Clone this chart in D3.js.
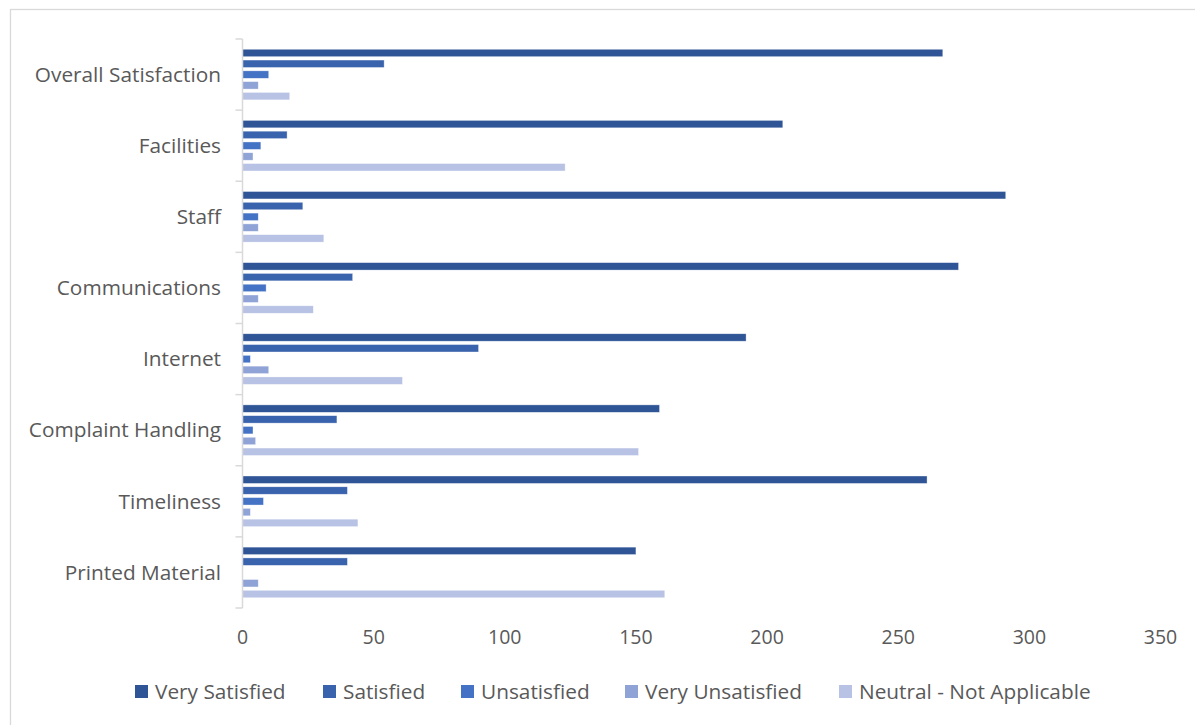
<!DOCTYPE html>
<html>
<head>
<meta charset="utf-8">
<script src="https://cdn.jsdelivr.net/npm/d3@7"></script>
<style>
  html, body { margin: 0; padding: 0; background: #fff; }
  svg { display: block; }
  text { font-family: "Open Sans", Lato, sans-serif; fill: #595959; }
</style>
</head>
<body>
<svg id="chart" width="1195" height="725"></svg>
<script>
const categories = ["Overall Satisfaction", "Facilities", "Staff", "Communications", "Internet", "Complaint Handling", "Timeliness", "Printed Material"];
const seriesNames = ["Very Satisfied", "Satisfied", "Unsatisfied", "Very Unsatisfied", "Neutral - Not Applicable"];
const verySatisfied   = [267, 206, 291, 273, 192, 159, 261, 150];
const satisfied       = [54, 17, 23, 42, 90, 36, 40, 40];
const unsatisfied     = [10, 7, 6, 9, 3, 4, 8, 0];
const veryUnsatisfied = [6, 4, 6, 6, 10, 5, 3, 6];
const neutral         = [18, 123, 31, 27, 61, 151, 44, 161];
const xTicks = [0, 50, 100, 150, 200, 250, 300, 350];
const colors = ["#2F5597", "#3A63AD", "#4472C4", "#8FA3D6", "#B7C2E4"];

const seriesValues = [verySatisfied, satisfied, unsatisfied, veryUnsatisfied, neutral];

const svg = d3.select("#chart");

// chart border
svg.append("rect")
  .attr("x", 10.5).attr("y", 9.5)
  .attr("width", 1200).attr("height", 730)
  .attr("fill", "none").attr("stroke", "#D9D9D9").attr("stroke-width", 1.3);

const x = d3.scaleLinear().domain([0, 350]).range([242.5, 1160.5]);
const y = d3.scaleBand().domain(categories).range([39, 608]).padding(0);
const ySub = d3.scaleBand().domain(seriesNames).range([0, y.bandwidth()])
  .paddingInner(0.31).paddingOuter(0.95);

// bars
const groups = svg.append("g").selectAll("g")
  .data(categories)
  .join("g")
  .attr("transform", d => `translate(0,${y(d)})`);

groups.selectAll("rect")
  .data((c, i) => seriesNames.map((s, j) => ({ s, j, v: seriesValues[j][i] })))
  .join("rect")
  .attr("x", x(0))
  .attr("y", d => ySub(d.s))
  .attr("width", d => Math.max(0, x(d.v) - x(0)))
  .attr("height", ySub.bandwidth())
  .attr("fill", d => colors[d.j])
  .attr("stroke", d => d.v > 0 ? "#ffffff" : "none")
  .attr("stroke-opacity", 0.6)
  .attr("stroke-width", 0.6);

// category axis
const yAxis = svg.append("g").attr("transform", `translate(${x(0)},0)`);
yAxis.append("line")
  .attr("x1", 0).attr("x2", 0)
  .attr("y1", 39).attr("y2", 608)
  .attr("stroke", "#D9D9D9").attr("stroke-width", 1.5);
const boundaries = categories.map(c => y(c)).concat([y.range()[1]]);
yAxis.selectAll("line.tick")
  .data(boundaries)
  .join("line")
  .attr("class", "tick")
  .attr("x1", -7).attr("x2", 0)
  .attr("y1", d => d).attr("y2", d => d)
  .attr("stroke", "#D9D9D9").attr("stroke-width", 1.5);

svg.append("g").selectAll("text")
  .data(categories)
  .join("text")
  .attr("x", 221)
  .attr("y", d => y(d) + y.bandwidth() / 2)
  .attr("dy", "0.35em")
  .attr("text-anchor", "end")
  .attr("font-size", 20.8)
  .text(d => d);

// value axis labels
svg.append("g").selectAll("text")
  .data(xTicks)
  .join("text")
  .attr("x", d => x(d))
  .attr("y", 637)
  .attr("dy", "0.35em")
  .attr("text-anchor", "middle")
  .attr("font-size", 19.5)
  .text(d => d);

// legend
const legendX = [135, 323, 461, 625, 839];
const legend = svg.append("g").selectAll("g")
  .data(seriesNames)
  .join("g")
  .attr("transform", (d, i) => `translate(${legendX[i]},685)`);
legend.append("rect")
  .attr("width", 13).attr("height", 13)
  .attr("fill", (d, i) => colors[i]);
legend.append("text")
  .attr("x", 20).attr("y", 6.5)
  .attr("dy", "0.35em")
  .attr("font-size", 20.8)
  .text(d => d);
</script>
</body>
</html>
